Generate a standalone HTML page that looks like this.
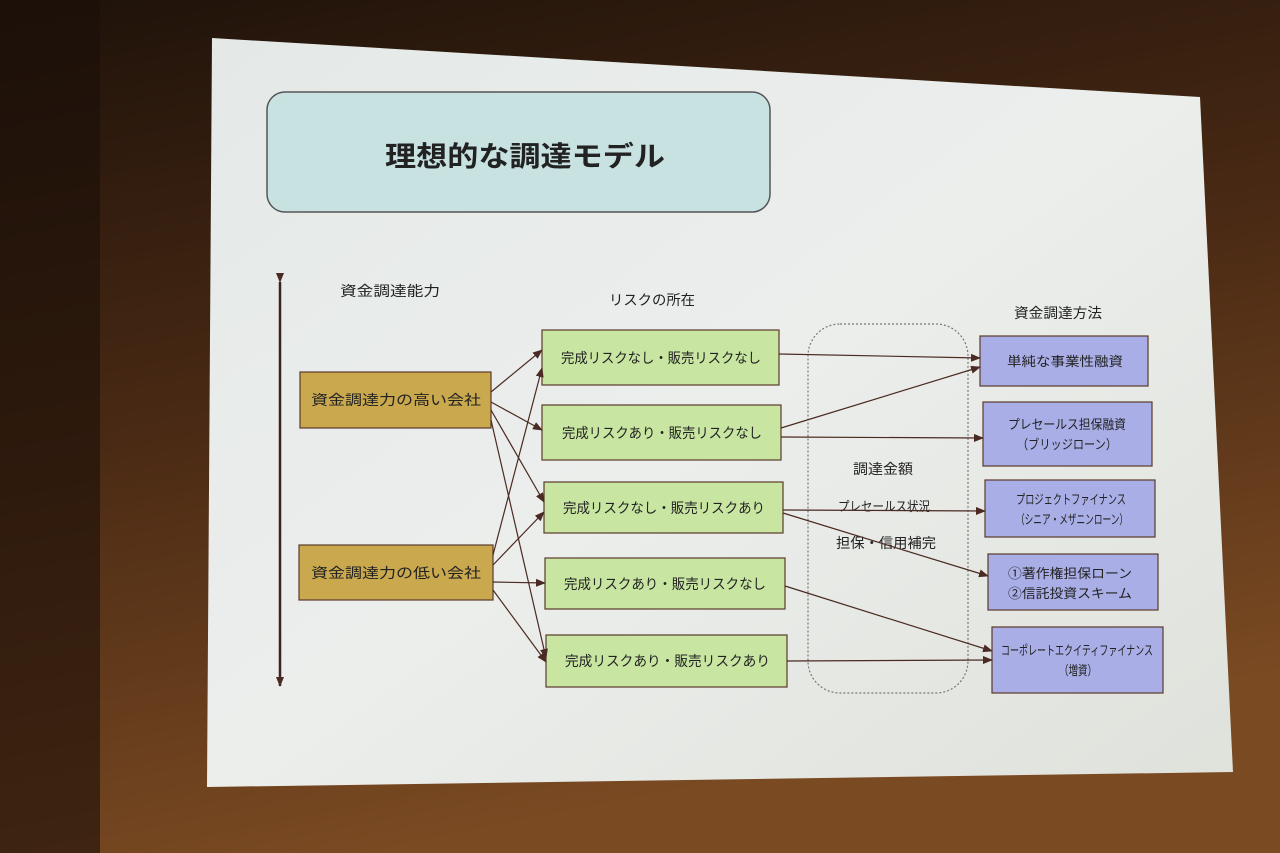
<!DOCTYPE html>
<html><head><meta charset="utf-8"><style>
html,body{margin:0;padding:0;width:1280px;height:853px;overflow:hidden;background:#3a2414}
svg{display:block}
text{font-family:"Liberation Sans","Noto Sans CJK JP",sans-serif;fill:#222}
</style></head><body>
<svg width="1280" height="853" viewBox="0 0 1280 853">
<defs>
<linearGradient id="bg" x1="0" y1="0" x2="0.3" y2="1">
<stop offset="0" stop-color="#1e120a"/><stop offset="0.5" stop-color="#4a2a14"/><stop offset="1" stop-color="#7a4a22"/>
</linearGradient>
<linearGradient id="sl" x1="0" y1="0" x2="1" y2="1">
<stop offset="0" stop-color="#e4e9e8"/><stop offset="0.5" stop-color="#eceeec"/><stop offset="1" stop-color="#dfe1db"/>
</linearGradient>
<marker id="a" markerWidth="10" markerHeight="8" refX="9" refY="4" orient="auto" markerUnits="userSpaceOnUse">
<path d="M0,0 L10,4 L0,8 z" fill="#4a2a22"/></marker>
</defs>
<rect width="1280" height="853" fill="url(#bg)"/>
<rect x="0" y="0" width="100" height="853" fill="#1a0f08" opacity="0.6"/>
<polygon points="212,38 1200,97 1233,772 207,787" fill="url(#sl)"/>
<rect x="267" y="92" width="503" height="120" rx="18" fill="#c8e2e2" stroke="#555" stroke-width="1.5"/>
<text x="385" y="166" font-size="28" font-weight="bold" textLength="280" lengthAdjust="spacingAndGlyphs">理想的な調達モデル</text>

<line x1="280" y1="282" x2="280" y2="686" stroke="#3a2420" stroke-width="2.5" marker-start="url(#a)" marker-end="url(#a)"/>
<text x="340" y="296" font-size="14" textLength="100" lengthAdjust="spacingAndGlyphs">資金調達能力</text>
<text x="609" y="305" font-size="14" textLength="86" lengthAdjust="spacingAndGlyphs">リスクの所在</text>
<text x="1014" y="318" font-size="14" textLength="88" lengthAdjust="spacingAndGlyphs">資金調達方法</text>

<rect x="808" y="324" width="160" height="369" rx="32" fill="none" stroke="#777" stroke-width="1.2" stroke-dasharray="2,2"/>
<text x="853" y="474" font-size="14" textLength="60" lengthAdjust="spacingAndGlyphs">調達金額</text>
<text x="838" y="511" font-size="13" textLength="92" lengthAdjust="spacingAndGlyphs">プレセールス状況</text>
<text x="836" y="548" font-size="14" textLength="100" lengthAdjust="spacingAndGlyphs">担保・信用補完</text>

<g stroke="#5a3a2a" stroke-width="1.2">
<rect x="300" y="372" width="191" height="56" fill="#c9a84e"/>
<rect x="299" y="545" width="194" height="55" fill="#c9a84e"/>
<g fill="#c8e6a2">
<rect x="542" y="330" width="237" height="55"/>
<rect x="542" y="405" width="239" height="55"/>
<rect x="544" y="482" width="239" height="51"/>
<rect x="545" y="558" width="240" height="51"/>
<rect x="546" y="635" width="241" height="52"/>
</g>
<g fill="#a9aee6">
<rect x="980" y="336" width="168" height="50"/>
<rect x="983" y="402" width="169" height="64"/>
<rect x="985" y="480" width="170" height="57"/>
<rect x="988" y="554" width="170" height="56"/>
<rect x="992" y="627" width="171" height="66"/>
</g>
</g>
<g font-size="14" lengthAdjust="spacingAndGlyphs">
<text x="311" y="405" textLength="170" lengthAdjust="spacingAndGlyphs">資金調達力の高い会社</text>
<text x="311" y="578" textLength="170" lengthAdjust="spacingAndGlyphs">資金調達力の低い会社</text>
<text x="561" y="363" textLength="200" lengthAdjust="spacingAndGlyphs">完成リスクなし・販売リスクなし</text>
<text x="562" y="438" textLength="200" lengthAdjust="spacingAndGlyphs">完成リスクあり・販売リスクなし</text>
<text x="563" y="513" textLength="202" lengthAdjust="spacingAndGlyphs">完成リスクなし・販売リスクあり</text>
<text x="564" y="589" textLength="202" lengthAdjust="spacingAndGlyphs">完成リスクあり・販売リスクなし</text>
<text x="565" y="666" textLength="205" lengthAdjust="spacingAndGlyphs">完成リスクあり・販売リスクあり</text>
</g>
<g font-size="13">
<text x="1007" y="366" textLength="116" lengthAdjust="spacingAndGlyphs">単純な事業性融資</text>
<text x="1008" y="429" textLength="118" lengthAdjust="spacingAndGlyphs">プレセールス担保融資</text>
<text x="1017" y="449" textLength="100" lengthAdjust="spacingAndGlyphs">（ブリッジローン）</text>
<text x="1016" y="504" textLength="110" lengthAdjust="spacingAndGlyphs">プロジェクトファイナンス</text>
<text x="1016" y="524" textLength="112" lengthAdjust="spacingAndGlyphs">（シニア・メザニンローン）</text>
<text x="1008" y="578" textLength="124" lengthAdjust="spacingAndGlyphs">①著作権担保ローン</text>
<text x="1008" y="598" textLength="124" lengthAdjust="spacingAndGlyphs">②信託投資スキーム</text>
<text x="1001" y="655" textLength="152" lengthAdjust="spacingAndGlyphs">コーポレートエクイティファイナンス</text>
<text x="1059" y="675" textLength="38" lengthAdjust="spacingAndGlyphs">（増資）</text>
</g>
<g stroke="#4a2a22" stroke-width="1.2" fill="none" marker-end="url(#a)">
<line x1="491" y1="392" x2="542" y2="350"/>
<line x1="491" y1="402" x2="542" y2="430"/>
<line x1="491" y1="410" x2="544" y2="502"/>
<line x1="491" y1="420" x2="546" y2="658"/>
<line x1="493" y1="555" x2="542" y2="368"/>
<line x1="493" y1="565" x2="544" y2="512"/>
<line x1="493" y1="582" x2="545" y2="583"/>
<line x1="493" y1="590" x2="546" y2="662"/>
<line x1="779" y1="354" x2="980" y2="358"/>
<line x1="781" y1="428" x2="980" y2="367"/>
<line x1="781" y1="437" x2="983" y2="438"/>
<line x1="783" y1="510" x2="985" y2="511"/>
<line x1="783" y1="513" x2="988" y2="576"/>
<line x1="785" y1="586" x2="992" y2="651"/>
<line x1="787" y1="661" x2="992" y2="660"/>
</g>
</svg>
</body></html>
